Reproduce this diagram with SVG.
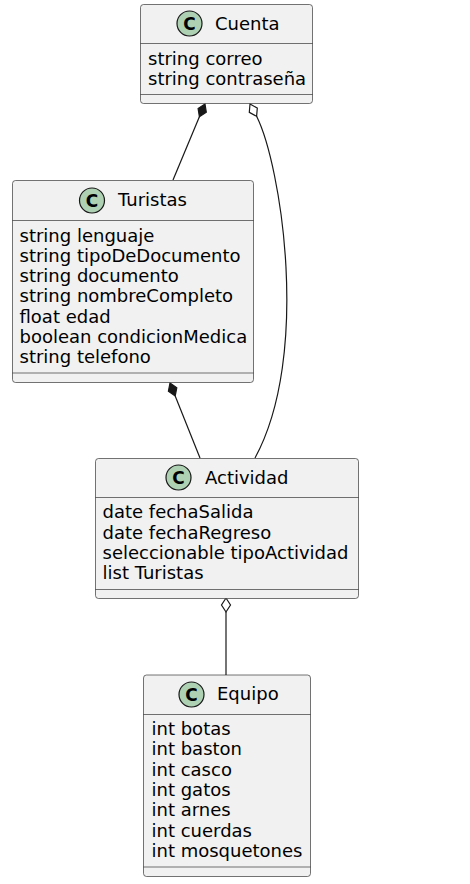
<svg xmlns="http://www.w3.org/2000/svg" width="470" height="884" viewBox="0 0 470 884">
<style>
.box{fill:#F1F1F1;stroke:#181818;stroke-width:0.6}
.sep{stroke:#181818;stroke-width:0.6}
.circ{fill:#ADD1B2;stroke:#181818;stroke-width:1.2}
.cl{font-family:"DejaVu Sans",sans-serif;font-size:17px;font-weight:bold;fill:#000;text-anchor:middle}
.t{font-family:"DejaVu Sans",sans-serif;font-size:18px;fill:#000}
.ln{fill:none;stroke:#181818;stroke-width:1.2}
.fd{fill:#181818;stroke:#181818;stroke-width:1.2}
.hd{fill:#FFFFFF;stroke:#181818;stroke-width:1.2}
</style>
<rect width="470" height="884" fill="#FFFFFF"/>
<g id="connectors">
<polygon class="fd" points="205,104 206.3,112.2 199.4,116.8 198.1,108.6"/>
<path class="ln" d="M199.4,116.8 L173,180"/>
<polygon class="hd" points="250,104 257.3,108.1 256.6,116.3 249.3,112.3"/>
<path class="ln" d="M256.6,116.3 C281,165 311,355 255,458"/>
<polygon class="fd" points="170,383 176.8,387.8 175.2,396 168.4,391.2"/>
<path class="ln" d="M175.2,396 L200,458"/>
<polygon class="hd" points="226,598 230.5,605 226,612 221.5,605"/>
<path class="ln" d="M226,612 L226,675"/>
</g>
<g id="Cuenta">
<rect class="box" x="140.5" y="4.5" width="172" height="99" rx="3"/>
<circle class="circ" cx="189.5" cy="23.5" r="12.5"/>
<text class="cl" x="189.5" y="29.5">C</text>
<text class="t" x="215" y="30">Cuenta</text>
<line class="sep" x1="140.5" y1="43.5" x2="312.5" y2="43.5"/>
<text class="t" x="148" y="64.5">string correo</text>
<text class="t" x="148" y="84.8">string contraseña</text>
<line class="sep" x1="140.5" y1="94.5" x2="312.5" y2="94.5"/>
</g>
<g id="Turistas">
<rect class="box" x="12.5" y="180.5" width="241" height="202" rx="3"/>
<circle class="circ" cx="92" cy="200.5" r="12.5"/>
<text class="cl" x="92" y="206.5">C</text>
<text class="t" x="118" y="206">Turistas</text>
<line class="sep" x1="12.5" y1="220.5" x2="253.5" y2="220.5"/>
<text class="t" x="19.5" y="241.5">string lenguaje</text>
<text class="t" x="19.5" y="261.8">string tipoDeDocumento</text>
<text class="t" x="19.5" y="282.1">string documento</text>
<text class="t" x="19.5" y="302.4">string nombreCompleto</text>
<text class="t" x="19.5" y="322.7">float edad</text>
<text class="t" x="19.5" y="343">boolean condicionMedica</text>
<text class="t" x="19.5" y="363.3">string telefono</text>
<line class="sep" x1="12.5" y1="373" x2="253.5" y2="373"/>
</g>
<g id="Actividad">
<rect class="box" x="95.5" y="458.5" width="263" height="140" rx="3"/>
<circle class="circ" cx="178.5" cy="477.5" r="12.5"/>
<text class="cl" x="178.5" y="483.5">C</text>
<text class="t" x="205" y="484">Actividad</text>
<line class="sep" x1="95.5" y1="497.5" x2="358.5" y2="497.5"/>
<text class="t" x="102.5" y="518.3">date fechaSalida</text>
<text class="t" x="102.5" y="538.6">date fechaRegreso</text>
<text class="t" x="102.5" y="558.9">seleccionable tipoActividad</text>
<text class="t" x="102.5" y="579.2">list Turistas</text>
<line class="sep" x1="95.5" y1="589.5" x2="358.5" y2="589.5"/>
</g>
<g id="Equipo">
<rect class="box" x="143.5" y="675" width="167" height="201.5" rx="3"/>
<circle class="circ" cx="191.5" cy="694.5" r="12.5"/>
<text class="cl" x="191.5" y="700.5">C</text>
<text class="t" x="217" y="700">Equipo</text>
<line class="sep" x1="143.5" y1="714.5" x2="310.5" y2="714.5"/>
<text class="t" x="151.5" y="735">int botas</text>
<text class="t" x="151.5" y="755.3">int baston</text>
<text class="t" x="151.5" y="775.6">int casco</text>
<text class="t" x="151.5" y="795.9">int gatos</text>
<text class="t" x="151.5" y="816.2">int arnes</text>
<text class="t" x="151.5" y="836.5">int cuerdas</text>
<text class="t" x="151.5" y="856.8">int mosquetones</text>
<line class="sep" x1="143.5" y1="867" x2="310.5" y2="867"/>
</g>
</svg>
